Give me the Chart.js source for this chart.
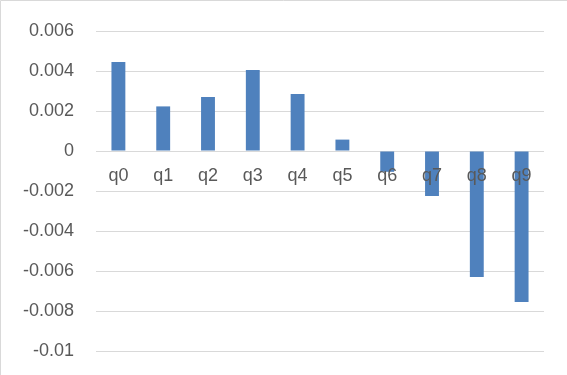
<!DOCTYPE html>
<html>
    <head>
        <script src="https://cdn.jsdelivr.net/npm/chart.js@4.4.0/dist/chart.umd.min.js"></script>
        <meta charset="utf-8">
        <title>q chart</title>
        <style>
            html, body { margin: 0; padding: 0; background: #ffffff; overflow: hidden; }
            canvas { display: block; }
        </style>
    </head>
    <body>
        <canvas id="data" width="567" height="375"></canvas>
        <script>
            // categories and values
            const categories = ["q0", "q1", "q2", "q3", "q4", "q5", "q6", "q7", "q8", "q9"];
            const values = [0.00445, 0.00223, 0.0027, 0.00405, 0.00285, 0.00057, -0.00104, -0.00225, -0.0063, -0.00755];
            const yMin = -0.01, yMax = 0.006, yStep = 0.002;

            const textColor = "#595959";
            const gridColor = "#d9d9d9";
            const fontFamily = "'Liberation Sans', Arial, sans-serif";
            const fontSpec = { family: fontFamily, size: 18 };

            // light frame on the top and left edges, like the source image
            var framePlugin = {
                id: "frame",
                beforeDraw: function(chart) {
                    var c = chart.ctx;
                    c.save();
                    c.strokeStyle = "#d9d9d9";
                    c.lineWidth = 1;
                    c.beginPath();
                    c.moveTo(0.5, chart.height);
                    c.lineTo(0.5, 0.5);
                    c.lineTo(chart.width, 0.5);
                    c.stroke();
                    c.restore();
                }
            };

            // category labels sit just under the zero line, drawn over the bars like Excel does
            var zeroLabels = {
                id: "zeroLabels",
                afterDatasetsDraw: function(chart) {
                    var c = chart.ctx;
                    var xs = chart.scales.x, ys = chart.scales.y;
                    var y0 = ys.getPixelForValue(0);
                    c.save();
                    c.fillStyle = textColor;
                    c.font = "18px " + fontFamily;
                    c.textAlign = "center";
                    c.textBaseline = "top";
                    for (var i = 0; i < categories.length; i++) {
                        c.fillText(categories[i], xs.getPixelForValue(i), y0 + 16);
                    }
                    c.restore();
                }
            };

            var ctx = document.getElementById("data").getContext("2d");
            var chart = new Chart(ctx, {
                type: "bar",
                data: {
                    labels: categories,
                    datasets: [{
                        data: values,
                        backgroundColor: "#4f81bd",
                        barPercentage: 0.31,
                        categoryPercentage: 1
                    }]
                },
                options: {
                    responsive: false,
                    animation: false,
                    layout: { padding: { top: 31, bottom: 24, left: 0, right: 23 } },
                    plugins: { legend: { display: false }, tooltip: { enabled: false } },
                    scales: {
                        x: {
                            display: false
                        },
                        y: {
                            min: yMin,
                            max: yMax,
                            // the gap between labels and plot comes from an invisible tick,
                            // ticks.padding would also pad the top and bottom of the scale
                            grid: { color: gridColor, lineWidth: 1, drawTicks: true, tickLength: 22, tickColor: "rgba(0,0,0,0)" },
                            border: { display: false },
                            ticks: {
                                stepSize: yStep,
                                color: textColor,
                                font: fontSpec,
                                padding: 0,
                                callback: function(v) { return String(parseFloat(v.toFixed(3))); }
                            },
                            afterFit: function(scale) { scale.width = 96; }
                        }
                    }
                },
                plugins: [framePlugin, zeroLabels]
            });
        </script>
    </body>
</html>
